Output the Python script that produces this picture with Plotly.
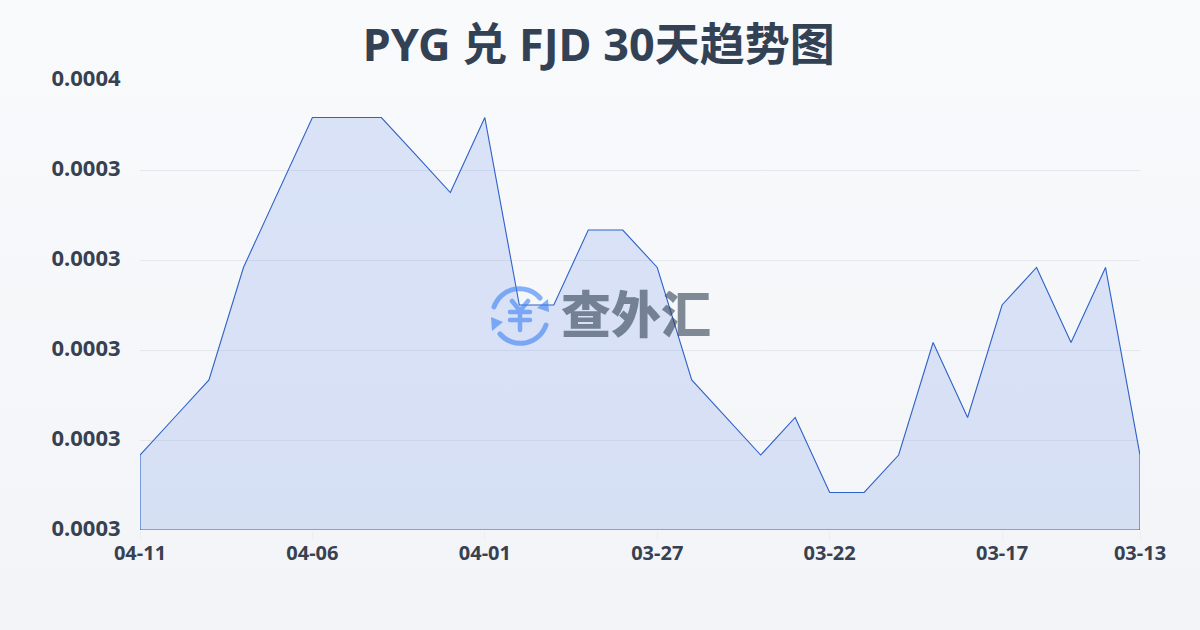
import base64
import plotly.graph_objects as go

dates = ["04-11","04-10","04-09","04-08","04-07","04-06","04-05","04-04","04-03","04-02",
         "04-01","03-31","03-30","03-29","03-28","03-27","03-26","03-25","03-24","03-23",
         "03-22","03-21","03-20","03-19","03-18","03-17","03-16","03-15","03-14","03-13"]
values = [0.00030833,0.0003125,0.00031667,0.00032917,0.0003375,0.00034583,0.00034583,0.00034583,
          0.00034167,0.0003375,0.00034583,0.000325,0.000325,0.00033333,0.00033333,0.00032917,
          0.00031667,0.0003125,0.00030833,0.0003125,0.00030417,0.00030417,0.00030833,0.00032083,
          0.0003125,0.000325,0.00032917,0.00032083,0.00032917,0.00030833]
base_value = 0.0003
top_value = 0.00035
y_ticks = [0.0003,0.00031,0.00032,0.00033,0.00034,0.00035]
y_labels = ["0.0003","0.0003","0.0003","0.0003","0.0003","0.0004"]
x_tick_index = [0,5,10,15,20,25,29]
title = "PYG 兑 FJD 30天趋势图"
logo_text = "查外汇"

FONT = "Noto Sans, Noto Sans CJK SC, sans-serif"
INK = "#374151"

bg_svg = ('<svg xmlns="http://www.w3.org/2000/svg" width="1200" height="630">'
          '<defs><linearGradient id="g" x1="0" y1="0" x2="0" y2="1">'
          '<stop offset="0" stop-color="#f9fafc"/><stop offset="1" stop-color="#f2f4f7"/>'
          '</linearGradient></defs><rect width="1200" height="630" fill="url(#g)"/></svg>')
icon_svg = ('<svg xmlns="http://www.w3.org/2000/svg" width="60" height="60" viewBox="0 0 60 60">'
            '<g fill="none" stroke="#3b82f6" stroke-width="5" stroke-linecap="round">'
            '<path d="M4 21 A27 27 0 0 1 50 12"/>'
            '<path d="M56 39 A27 27 0 0 1 10 48"/>'
            '<path d="M22 15 L30 25 L38 15 M30 25 V44 M20 26 H40 M20 34 H40" stroke-width="4.5"/>'
            '</g><g fill="#3b82f6"><path d="M58 13 L59 26 L47 22 Z"/><path d="M1 31 L13 36 L2 45 Z"/></g></svg>')

def uri(s):
    return "data:image/svg+xml;base64," + base64.b64encode(s.encode()).decode()

idx = list(range(len(dates)))
fig = go.Figure()

fig.add_trace(go.Scatter(
    x=[idx[0]] + idx + [idx[-1], idx[0]],
    y=[base_value] + values + [base_value, base_value],
    mode="lines", fill="toself", fillcolor="rgba(100,140,230,0.2)",
    line=dict(color="#2f62c8", width=1.1), cliponaxis=False,
    hoverinfo="skip", showlegend=False))

fig.add_annotation(
    text=logo_text, xref="paper", yref="paper", x=0.496, y=0.4867,
    xanchor="center", yanchor="middle", showarrow=False, opacity=0.6,
    font=dict(family="Noto Sans CJK SC", size=50, color="#334155", weight=900))

fig.update_layout(
    width=1200, height=630,
    margin=dict(l=140, r=60, t=80, b=100),
    paper_bgcolor="rgba(0,0,0,0)", plot_bgcolor="rgba(0,0,0,0)",
    showlegend=False,
    title=dict(text=title, x=0.499, xanchor="center", y=0.928, yanchor="middle",
               font=dict(family=FONT, size=45, color="#334155", weight=700)),
    xaxis=dict(range=[0, len(dates) - 1], tickmode="array", tickvals=x_tick_index,
               ticktext=[dates[i] for i in x_tick_index], showgrid=False, zeroline=False,
               showline=False, ticks="outside", tickcolor="#eceef2", tickwidth=1, tickangle=0, ticklen=10,
               ticklabelstandoff=-5,
               tickfont=dict(family=FONT, size=20, color=INK, weight=700)),
    yaxis=dict(range=[base_value, top_value], tickmode="array", tickvals=y_ticks,
               ticktext=y_labels, showgrid=True, gridcolor="#e4e7ec", gridwidth=1,
               zeroline=False, showline=False, ticks="outside", ticklen=14, tickcolor="rgba(0,0,0,0)",
               ticklabelshift=-2,
               tickfont=dict(family=FONT, size=22, color=INK, weight=700)),
    images=[
        dict(source=uri(bg_svg), xref="paper", yref="paper", x=-140/1000, y=1+80/450,
             sizex=1.2, sizey=630/450, xanchor="left", yanchor="top", layer="below", sizing="stretch"),
        dict(source=uri(icon_svg), xref="paper", yref="paper", x=350/1000, y=1-206/450,
             sizex=0.06, sizey=60/450, xanchor="left", yanchor="top", layer="above", sizing="stretch", opacity=0.6),
    ],
)
fig.write_html("out.html", config=dict(displayModeBar=False),
               post_script="document.body.style.margin='0';document.body.style.overflow='hidden';")
